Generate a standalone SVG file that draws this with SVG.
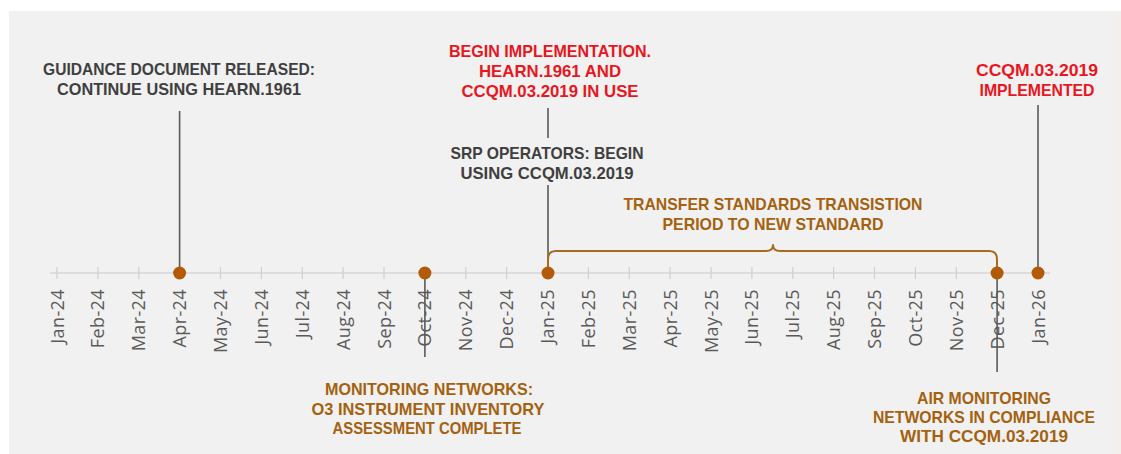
<svg xmlns="http://www.w3.org/2000/svg" width="1121" height="454" viewBox="0 0 1121 454">
  <defs>
    <style>
      .panel { fill: #f1f1f1; }
      .axis { stroke: #d6d6d6; stroke-width: 1.5; fill: none; }
      .tick { stroke: #d0d0d0; stroke-width: 1.2; }
      .lead { stroke: #5a5a5a; stroke-width: 1.6; fill: none; }
      .brace { stroke: #a9691f; stroke-width: 2; fill: none; stroke-linejoin: round; }
      .dot { fill: #b25a05; }
      .month { font-family: "Open Sans", "Noto Sans", sans-serif; font-size: 18px; letter-spacing: 0.4px; fill: #5a5a5a; text-anchor: end; }
      .head { font-family: "Liberation Sans Narrow", "Liberation Sans", Arial, sans-serif; font-weight: bold; font-size: 17px; text-anchor: middle; }
      .gray { fill: #3f3f3f; }
      .red { fill: #e8161e; }
      .brown { fill: #a4610f; }
    </style>
  </defs>

  <!-- background panel -->
  <rect x="0" y="0" width="1121" height="454" fill="#ffffff"/>
  <rect x="1112" y="11" width="9" height="443" fill="#f4efea"/>
  <rect class="panel" x="9" y="11" width="1104" height="443"/>

  <!-- timeline axis with month ticks -->
  <g id="axis">
    <line class="axis" x1="50" y1="273" x2="1050" y2="273"/>
    <g class="tick">
      <line x1="57" y1="267" x2="57" y2="279"/>
      <line x1="97.9" y1="267" x2="97.9" y2="279"/>
      <line x1="138.8" y1="267" x2="138.8" y2="279"/>
      <line x1="179.6" y1="267" x2="179.6" y2="279"/>
      <line x1="220.5" y1="267" x2="220.5" y2="279"/>
      <line x1="261.4" y1="267" x2="261.4" y2="279"/>
      <line x1="302.3" y1="267" x2="302.3" y2="279"/>
      <line x1="343.1" y1="267" x2="343.1" y2="279"/>
      <line x1="384" y1="267" x2="384" y2="279"/>
      <line x1="424.9" y1="267" x2="424.9" y2="279"/>
      <line x1="465.8" y1="267" x2="465.8" y2="279"/>
      <line x1="506.6" y1="267" x2="506.6" y2="279"/>
      <line x1="547.5" y1="267" x2="547.5" y2="279"/>
      <line x1="588.4" y1="267" x2="588.4" y2="279"/>
      <line x1="629.3" y1="267" x2="629.3" y2="279"/>
      <line x1="670.1" y1="267" x2="670.1" y2="279"/>
      <line x1="711" y1="267" x2="711" y2="279"/>
      <line x1="751.9" y1="267" x2="751.9" y2="279"/>
      <line x1="792.8" y1="267" x2="792.8" y2="279"/>
      <line x1="833.6" y1="267" x2="833.6" y2="279"/>
      <line x1="874.5" y1="267" x2="874.5" y2="279"/>
      <line x1="915.4" y1="267" x2="915.4" y2="279"/>
      <line x1="956.3" y1="267" x2="956.3" y2="279"/>
      <line x1="997.1" y1="267" x2="997.1" y2="279"/>
      <line x1="1038" y1="267" x2="1038" y2="279"/>
    </g>
  </g>

  <!-- month labels -->
  <g id="month-labels">
    <text class="month" transform="translate(63.5 289) rotate(-90)">Jan-24</text>
    <text class="month" transform="translate(104.4 289) rotate(-90)">Feb-24</text>
    <text class="month" transform="translate(145.3 289) rotate(-90)">Mar-24</text>
    <text class="month" transform="translate(186.1 289) rotate(-90)">Apr-24</text>
    <text class="month" transform="translate(227 289) rotate(-90)">May-24</text>
    <text class="month" transform="translate(267.9 289) rotate(-90)">Jun-24</text>
    <text class="month" transform="translate(308.8 289) rotate(-90)">Jul-24</text>
    <text class="month" transform="translate(349.6 289) rotate(-90)">Aug-24</text>
    <text class="month" transform="translate(390.5 289) rotate(-90)">Sep-24</text>
    <text class="month" transform="translate(431.4 289) rotate(-90)">Oct-24</text>
    <text class="month" transform="translate(472.3 289) rotate(-90)">Nov-24</text>
    <text class="month" transform="translate(513.1 289) rotate(-90)">Dec-24</text>
    <text class="month" transform="translate(554 289) rotate(-90)">Jan-25</text>
    <text class="month" transform="translate(594.9 289) rotate(-90)">Feb-25</text>
    <text class="month" transform="translate(635.8 289) rotate(-90)">Mar-25</text>
    <text class="month" transform="translate(676.6 289) rotate(-90)">Apr-25</text>
    <text class="month" transform="translate(717.5 289) rotate(-90)">May-25</text>
    <text class="month" transform="translate(758.4 289) rotate(-90)">Jun-25</text>
    <text class="month" transform="translate(799.3 289) rotate(-90)">Jul-25</text>
    <text class="month" transform="translate(840.1 289) rotate(-90)">Aug-25</text>
    <text class="month" transform="translate(881 289) rotate(-90)">Sep-25</text>
    <text class="month" transform="translate(921.9 289) rotate(-90)">Oct-25</text>
    <text class="month" transform="translate(962.8 289) rotate(-90)">Nov-25</text>
    <text class="month" transform="translate(1003.6 289) rotate(-90)">Dec-25</text>
    <text class="month" transform="translate(1044.5 289) rotate(-90)">Jan-26</text>
  </g>

  <!-- leader lines and the transition brace -->
  <g id="connectors">
    <line class="lead" x1="179.6" y1="111" x2="179.6" y2="273"/>
    <line class="lead" x1="548" y1="108" x2="548" y2="138"/>
    <line class="lead" x1="548" y1="185" x2="548" y2="273"/>
    <line class="lead" x1="1038" y1="105" x2="1038" y2="273"/>
    <line class="lead" x1="424.9" y1="273" x2="424.9" y2="357"/>
    <line class="lead" x1="997.1" y1="273" x2="997.1" y2="372"/>
    <path class="brace" d="M548 273 V259 Q548 251 556 251 H766 Q773 251 773 245 Q773 251 780 251 H989 Q997 251 997 259 V273"/>
  </g>

  <!-- event markers -->
  <g id="markers">
    <circle class="dot" cx="179.6" cy="273" r="6.5"/>
    <circle class="dot" cx="424.9" cy="273" r="6.5"/>
    <circle class="dot" cx="548" cy="273" r="6.5"/>
    <circle class="dot" cx="997.1" cy="273" r="6.5"/>
    <circle class="dot" cx="1038" cy="273" r="6.5"/>
  </g>

  <g id="guidance-released">
    <text class="head gray" x="179" y="75" textLength="272" lengthAdjust="spacingAndGlyphs">GUIDANCE DOCUMENT RELEASED:</text>
    <text class="head gray" x="179" y="95" textLength="244" lengthAdjust="spacingAndGlyphs">CONTINUE USING HEARN.1961</text>
  </g>

  <g id="begin-implementation">
    <text class="head red" x="550" y="57" textLength="202" lengthAdjust="spacingAndGlyphs">BEGIN IMPLEMENTATION.</text>
    <text class="head red" x="550" y="77" textLength="142" lengthAdjust="spacingAndGlyphs">HEARN.1961 AND</text>
    <text class="head red" x="550" y="97" textLength="177" lengthAdjust="spacingAndGlyphs">CCQM.03.2019 IN USE</text>
  </g>

  <g id="srp-operators">
    <text class="head gray" x="547" y="159" textLength="193" lengthAdjust="spacingAndGlyphs">SRP OPERATORS: BEGIN</text>
    <text class="head gray" x="547" y="179" textLength="173" lengthAdjust="spacingAndGlyphs">USING CCQM.03.2019</text>
  </g>

  <g id="ccqm-implemented">
    <text class="head red" x="1037" y="76" textLength="122" lengthAdjust="spacingAndGlyphs">CCQM.03.2019</text>
    <text class="head red" x="1037" y="96" textLength="115" lengthAdjust="spacingAndGlyphs">IMPLEMENTED</text>
  </g>

  <g id="transition-period">
    <text class="head brown" x="773" y="210" textLength="299" lengthAdjust="spacingAndGlyphs">TRANSFER STANDARDS TRANSISTION</text>
    <text class="head brown" x="773" y="230" textLength="221" lengthAdjust="spacingAndGlyphs">PERIOD TO NEW STANDARD</text>
  </g>

  <g id="inventory-assessment">
    <text class="head brown" x="429" y="395" textLength="208" lengthAdjust="spacingAndGlyphs">MONITORING NETWORKS:</text>
    <text class="head brown" x="428" y="415" textLength="233" lengthAdjust="spacingAndGlyphs">O3 INSTRUMENT INVENTORY</text>
    <text class="head brown" x="427" y="434" textLength="189" lengthAdjust="spacingAndGlyphs">ASSESSMENT COMPLETE</text>
  </g>

  <g id="networks-compliance">
    <text class="head brown" x="984" y="404" textLength="134" lengthAdjust="spacingAndGlyphs">AIR MONITORING</text>
    <text class="head brown" x="984" y="423" textLength="222" lengthAdjust="spacingAndGlyphs">NETWORKS IN COMPLIANCE</text>
    <text class="head brown" x="984" y="442" textLength="168" lengthAdjust="spacingAndGlyphs">WITH CCQM.03.2019</text>
  </g>
</svg>
